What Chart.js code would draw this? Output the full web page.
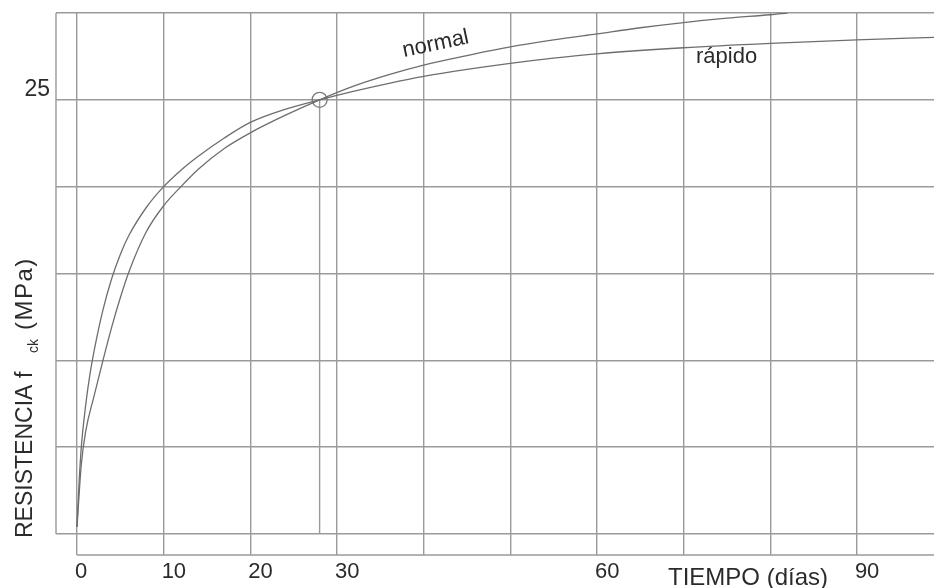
<!DOCTYPE html>
<html>
<head>
<meta charset="utf-8">
<script src="https://cdn.jsdelivr.net/npm/chart.js@4.4.1/dist/chart.umd.min.js"></script>
<style>
  html, body { margin: 0; padding: 0; background: #fff; }
  canvas { display: block; }
</style>
</head>
<body>
<canvas id="myChart" width="934" height="588"></canvas>
<script>
// ticks on both axes
const dayTicks = [0, 10, 20, 30, 40, 50, 60, 70, 80, 90];
const dayLabels = ['0', '10', '20', '30', '', '', '60', '', '', '90'];
const mpaTicks = [0, 5, 10, 15, 20, 25, 30];
const mpaLabels = ['', '', '', '', '', '25', ''];

// cemento rapido
const rapidoDays = [0, 0.25, 0.5, 1, 1.5, 2, 3, 4, 5, 6, 8, 10, 12, 14, 17, 20, 24, 28, 32, 36, 40, 45, 50, 55, 60, 70, 80, 90, 99];
const rapidoMPa  = [0.4, 3.0, 5.0, 7.4, 9.2, 10.6, 12.9, 14.7, 16.1, 17.2, 18.8, 20.0, 20.95, 21.75, 22.8, 23.7, 24.45, 25, 25.5, 25.95, 26.35, 26.75, 27.1, 27.4, 27.65, 28.0, 28.25, 28.45, 28.6];

// cemento normal
const normalDays = [0, 0.5, 1, 2, 3, 4, 5, 6, 8, 10, 12, 14, 17, 20, 24, 28, 32, 36, 40, 45, 50, 55, 60, 65, 70, 75, 80, 82];
const normalMPa  = [0.4, 4.0, 5.9, 8.0, 10.0, 11.9, 13.6, 15.1, 17.4, 18.9, 20.0, 21.0, 22.2, 23.1, 24.1, 25, 25.8, 26.45, 27.0, 27.55, 28.05, 28.45, 28.8, 29.15, 29.45, 29.7, 29.9, 30];

// 28 dias
const refDays = [28, 28];
const refMPa  = [25, 0];

const FONT = "'Liberation Sans', Arial, sans-serif";
const gridColor = '#9a9a9a';
const curveColor = '#6e6e6e';
const textColor = '#2b2b2b';

const toXY = (xs, ys) => xs.map((v, i) => ({ x: v, y: ys[i] }));

const decor = {
  id: 'decor',
  beforeDatasetsDraw(chart) {
    const { ctx, scales: { x, y } } = chart;
    ctx.save();
    ctx.strokeStyle = gridColor;
    ctx.lineWidth = 1.4;
    ctx.beginPath();
    // left frame, down to 0 MPa
    ctx.moveTo(x.left, y.getPixelForValue(30));
    ctx.lineTo(x.left, y.getPixelForValue(0));
    // time axis, from day 0
    ctx.moveTo(x.getPixelForValue(0), y.bottom);
    ctx.lineTo(x.right, y.bottom);
    ctx.stroke();
    ctx.restore();
  },
  afterDraw(chart) {
    const { ctx } = chart;
    ctx.save();
    ctx.fillStyle = textColor;
    ctx.textBaseline = 'alphabetic';

    ctx.font = '22px ' + FONT;
    ctx.save();
    ctx.translate(437, 50);
    ctx.rotate(-12 * Math.PI / 180);
    ctx.textAlign = 'center';
    ctx.fillText('normal', 0, 0);
    ctx.restore();

    ctx.textAlign = 'left';
    ctx.fillText('rápido', 696, 63);

    ctx.font = '24px ' + FONT;
    ctx.fillText('TIEMPO (días)', 668, 585);

    // y title with subscript
    ctx.save();
    ctx.translate(32, 538);
    ctx.rotate(-Math.PI / 2);
    ctx.font = '23px ' + FONT;
    ctx.fillText('RESISTENCIA', 0, 0);
    ctx.fillText('f', 160, 0);
    ctx.font = '14px ' + FONT;
    ctx.fillText('ck', 185, 6);
    ctx.font = '24px ' + FONT;
    ctx.letterSpacing = '1.5px';
    ctx.fillText('(MPa)', 208, 0);
    ctx.restore();

    ctx.restore();
  }
};

new Chart(document.getElementById('myChart'), {
  type: 'line',
  data: {
    datasets: [
      {
        label: 'rápido',
        data: toXY(rapidoDays, rapidoMPa),
        borderColor: curveColor,
        borderWidth: 1.3,
        pointRadius: 0,
        fill: false,
        cubicInterpolationMode: 'monotone'
      }, {
        label: 'normal',
        data: toXY(normalDays, normalMPa),
        borderColor: curveColor,
        borderWidth: 1.3,
        pointRadius: 0,
        fill: false,
        cubicInterpolationMode: 'monotone'
      }, {
        label: '28 días',
        data: toXY(refDays, refMPa),
        borderColor: gridColor,
        borderWidth: 1.4,
        pointRadius: [7.5, 0],
        pointBorderColor: '#7a7a7a',
        pointBorderWidth: 1.3,
        pointBackgroundColor: 'rgba(0,0,0,0)',
        fill: false
      }
    ]
  },
  options: {
    responsive: false,
    animation: false,
    devicePixelRatio: 1,
    layout: { autoPadding: false, padding: { top: 13, right: 0, bottom: 0, left: 0 } },
    plugins: {
      legend: { display: false },
      tooltip: { enabled: false }
    },
    scales: {
      x: {
        type: 'linear',
        min: -2.42,
        max: 98.9,
        afterBuildTicks: (s) => { s.ticks = dayTicks.map(v => ({ value: v })); },
        afterFit: (s) => { s.height = 33; s.paddingLeft = 0; s.paddingRight = 0; },
        grid: { color: gridColor, lineWidth: 1.4, drawTicks: false },
        border: { display: false },
        ticks: {
          align: 'start',
          labelOffset: -2,
          padding: 4,
          color: textColor,
          font: { family: FONT, size: 22 },
          maxRotation: 0,
          autoSkip: false,
          callback: (v) => dayLabels[dayTicks.indexOf(v)]
        }
      },
      y: {
        type: 'linear',
        min: -1.21,
        max: 30,
        afterBuildTicks: (s) => { s.ticks = mpaTicks.map(v => ({ value: v })); },
        afterFit: (s) => { s.width = 56; s.paddingTop = 0; s.paddingBottom = 0; },
        grid: { color: gridColor, lineWidth: 1.4, drawTicks: false },
        border: { display: false },
        ticks: {
          padding: 6,
          labelOffset: -10,
          color: textColor,
          font: { family: FONT, size: 23 },
          autoSkip: false,
          callback: (v) => mpaLabels[mpaTicks.indexOf(v)]
        }
      }
    }
  },
  plugins: [decor]
});
</script>
</body>
</html>
